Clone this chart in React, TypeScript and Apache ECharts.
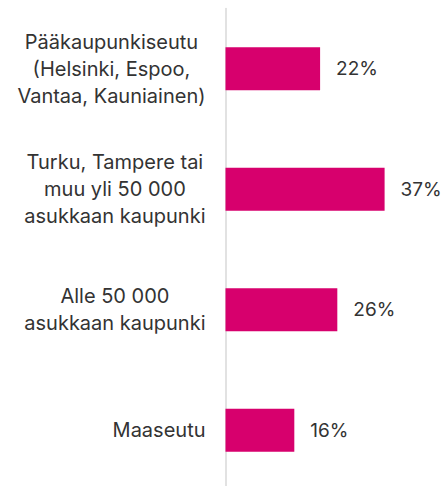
import React, { useEffect, useRef } from "react";
import * as echarts from "echarts";

const categories: string[] = [
  "Pääkaupunkiseutu\n(Helsinki, Espoo,\nVantaa, Kauniainen)",
  "Turku, Tampere tai\nmuu yli 50 000\nasukkaan kaupunki",
  "Alle 50 000\nasukkaan kaupunki",
  "Maaseutu",
];
const values: number[] = [22, 37, 26, 16];

export default function App() {
  const ref = useRef<HTMLDivElement>(null);
  useEffect(() => {
    if (!ref.current) return;
    const chart = echarts.init(ref.current, undefined, { renderer: "svg" });
    chart.setOption({
      animation: false,
      textStyle: { fontFamily: "Inter" },
      grid: { left: 225.5, right: 5.5, top: 8.4, bottom: 0.6, containLabel: false },
      xAxis: {
        type: "value",
        min: 0,
        max: 50,
        show: false,
      },
      yAxis: {
        type: "category",
        inverse: true,
        data: categories,
        axisLine: { show: true, lineStyle: { color: "#d9d9d9", width: 1.5 } },
        axisTick: { show: false },
        axisLabel: {
          margin: 20,
          formatter: (v: string) =>
            v
              .split("\n")
              .map((l) => `{c|${l}}`)
              .join("\n"),
          rich: {
            c: {
              align: "center",
              fontSize: 20,
              lineHeight: 27,
              color: "#333333",
              fontFamily: "Inter",
            },
          },
        },
      },
      series: [
        {
          type: "bar",
          data: values,
          barWidth: 43,
          itemStyle: { color: "#D7006D" },
          label: {
            show: true,
            position: "right",
            distance: 16,
            formatter: "{c}%",
            fontSize: 19,
            color: "#333333",
            fontFamily: "Inter",
          },
        },
      ],
    });
    return () => chart.dispose();
  }, []);
  return (
    <div style={{ position: "fixed", left: 0, top: 0, width: 446, height: 486, overflow: "hidden", background: "#fff" }}>
      <div ref={ref} style={{ width: 446, height: 491 }} />
    </div>
  );
}
